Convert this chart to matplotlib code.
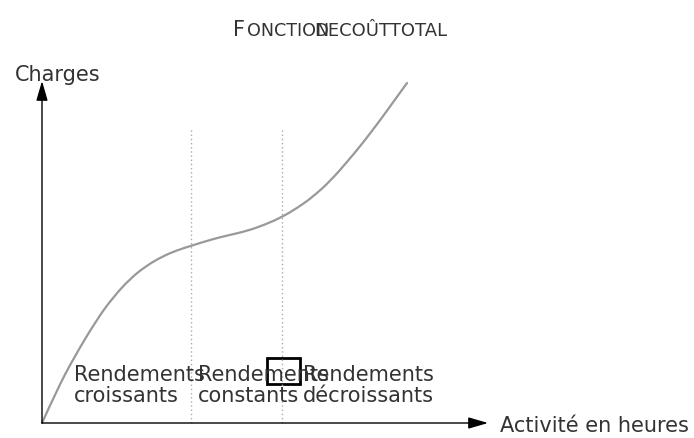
import matplotlib
matplotlib.use("Agg")
import matplotlib.pyplot as plt
from matplotlib.patches import Rectangle, PathPatch
from matplotlib.path import Path

# Data (activity vs. total cost)
activite = [0.0, 0.4, 0.85, 1.51, 1.95, 2.41, 2.85, 3.32, 3.7, 4.08, 4.68, 5.1,
            5.62, 6.1, 6.58, 7.0, 7.42, 7.9, 8.36, 8.8, 9.26, 9.63, 10.0]
charges = [0.0, 0.95, 1.88, 3.06, 3.7, 4.24, 4.62, 4.91, 5.08, 5.21, 5.41, 5.52,
           5.65, 5.83, 6.06, 6.33, 6.65, 7.12, 7.68, 8.25, 8.9, 9.45, 10.0]
seuils = [4.08, 6.58]
zones = ["Rendements\ncroissants", "Rendements\nconstants", "Rendements\ndécroissants"]
zones_x = [0.87, 4.27, 7.15]
titre_grand = "F"
titre_petit1 = "ONCTION"
titre_petit2 = "DECOÛTTOTAL"
label_y = "Charges"
label_x = "Activité en heures"

W, H = 694, 439
fig = plt.figure(figsize=(W / 100, H / 100), dpi=100)
ax = fig.add_axes([0, 0, 1, 1])
sx, sy = 36.5, 34.0
x0, y0 = 42, 424
ax.set_xlim((0 - x0) / sx, (W - x0) / sx)
ax.set_ylim((y0 - H) / sy, (y0 - 0) / sy)
ax.axis("off")

txt = "#333333"
arrow = dict(arrowstyle="-|>,head_length=1.2,head_width=0.35",
             color="black", lw=1.0, shrinkA=0, shrinkB=0)

# axes with arrows
ax.annotate("", xy=((488 - x0) / sx, 0), xytext=(0, 0), arrowprops=arrow)
ax.annotate("", xy=(0, (y0 - 82) / sy), xytext=(0, 0), arrowprops=arrow)

# smooth curve: quadratic Bezier through midpoints of the read points
pts = list(zip(activite, charges))
verts = [pts[0]]
codes = [Path.MOVETO]
for i in range(1, len(pts) - 1):
    mid = ((pts[i][0] + pts[i + 1][0]) / 2, (pts[i][1] + pts[i + 1][1]) / 2)
    if i == len(pts) - 2:
        mid = pts[-1]
    verts += [pts[i], mid]
    codes += [Path.CURVE3, Path.CURVE3]
ax.add_patch(PathPatch(Path(verts, codes), fill=False, ec="#999999", lw=1.6,
                       capstyle="round"))

# threshold lines
for s in seuils:
    ax.plot([s, s], [0, (y0 - 130) / sy], color="#aaaaaa", lw=1.0, ls=(0, (1, 2)))

# zone labels
for zx, z in zip(zones_x, zones):
    ax.text(zx, (y0 - 406) / sy, z, fontsize=15, color=txt, ha="left",
            va="bottom", linespacing=1.07)

# black box
ax.add_patch(Rectangle(((267 - x0) / sx, (y0 - 385) / sy), 33 / sx, 26 / sy,
                       fill=False, ec="black", lw=2))

# axis labels
ax.text((15 - x0) / sx, (y0 - 81) / sy, label_y, fontsize=15, color=txt,
        ha="left", va="baseline")
ax.text((500 - x0) / sx, (y0 - 432) / sy, label_x, fontsize=15, color=txt,
        ha="left", va="baseline")

# title in small caps
fig.text(233 / W, 1 - 36 / H, titre_grand, fontsize=15, color=txt, ha="left", va="baseline")
fig.text(247 / W, 1 - 36 / H, titre_petit1, fontsize=12.6, color=txt, ha="left", va="baseline")
fig.text(314 / W, 1 - 36 / H, titre_petit2, fontsize=13, color=txt, ha="left", va="baseline")

fig.savefig("out.png", dpi=100)
